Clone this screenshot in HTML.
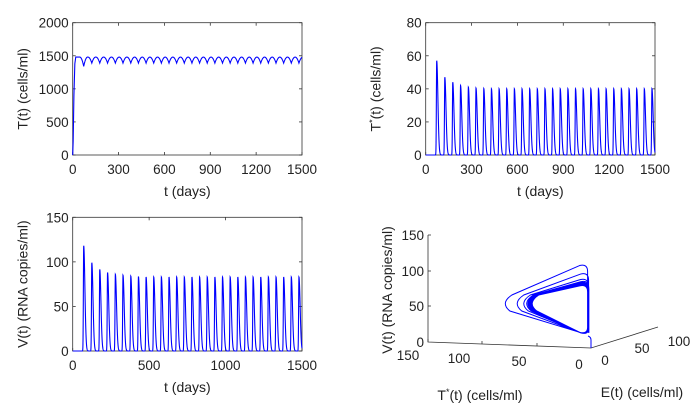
<!DOCTYPE html>
<html><head><meta charset="utf-8">
<style>
html,body{margin:0;padding:0;background:#fff;}
svg{display:block;font-family:"Liberation Sans",Arial,sans-serif;}
</style></head>
<body>
<svg id="fig" width="700" height="414" viewBox="0 0 700 414"></svg>
<script>
// ---- data ----
const peakDays = [72,125,177,228,279,329,380,430,480,530,580,630,680,730,780,830,880,930,980,1030,1080,1130,1180,1230,1280,1330,1380,1430,1480];
const tstarPeaks = [57,47,44,42,41,40.5,40.2,40,40,40,40,40,40,40,40,40,40,40,40,40,40,40,40,40,40,40,40,40,40];
const vPeaks = [118,99,91.5,88,86,85,84,83.5,83,83,83,83,83,83,83,83,83,83,83,83,83,83,83,83,83,83,83,83,83];
const tPlateau = 1480;
const tDip = 1390;
const tTicksX1 = [0,300,600,900,1200,1500];
const tTicksY1 = [0,500,1000,1500,2000];
const tTicksY2 = [0,20,40,60,80];
const tTicksX3 = [0,500,1000,1500];
const tTicksY3 = [0,50,100,150];

const NS="http://www.w3.org/2000/svg";
const svg=document.getElementById('fig');
function mk(tag,attrs,parent){const e=document.createElementNS(NS,tag);for(const k in attrs)e.setAttribute(k,attrs[k]);(parent||svg).appendChild(e);return e;}

function axes(name,x0,x1,y0,y1,xmax,ymax,xt,yt,ylabel,sup){
  const g=mk('g',{});
  
  
  const sx=v=>x0+(v/xmax)*(x1-x0), sy=v=>y1-(v/ymax)*(y1-y0);
  const box=mk('rect',{x:x0,y:y0,width:x1-x0,height:y1-y0,fill:'none',stroke:'#333','stroke-width':0.8},g);
  
  
  xt.forEach(v=>{
    const x=sx(v);
    mk('line',{x1:x,x2:x,y1:y1,y2:y1-3,stroke:'#333','stroke-width':0.8},g);
    mk('line',{x1:x,x2:x,y1:y0,y2:y0+3,stroke:'#333','stroke-width':0.8},g);
    const t=mk('text',{x:x,y:y1+19,'text-anchor':'middle','font-size':13.5,fill:'#222'},g);
    t.textContent=v;
    
    
  });
  yt.forEach(v=>{
    const y=sy(v);
    mk('line',{x1:x0,x2:x0+3,y1:y,y2:y,stroke:'#333','stroke-width':0.8},g);
    mk('line',{x1:x1,x2:x1-3,y1:y,y2:y,stroke:'#333','stroke-width':0.8},g);
    const t=mk('text',{x:x0-4,y:y+5,'text-anchor':'end','font-size':13.5,fill:'#222'},g);
    t.textContent=v;
    
    
  });
  const xl=mk('text',{x:(x0+x1)/2,y:y1+41,'text-anchor':'middle','font-size':14,fill:'#222'},g);
  xl.textContent='t (days)';
  
  
  const cy=(y0+y1)/2, lx=x0-45;
  const yl=mk('text',{x:lx,y:cy,'text-anchor':'middle','font-size':14,fill:'#222',transform:`rotate(-90 ${lx} ${cy})`},g);
  if(sup){yl.innerHTML='T<tspan dy="-5" font-size="9">*</tspan><tspan dy="5">(t) (cells/ml)</tspan>';}
  else yl.textContent=ylabel;
  
  
  return {sx,sy,g};
}

function nearest(t){let best=1e9,idx=0;peakDays.forEach((p,i)=>{if(Math.abs(t-p)<Math.abs(best)){best=t-p;idx=i;}});return {d:best,i:idx};}
function spikeSeries(peaks){
  const pts=[];
  for(let t=0;t<=1500;t+=0.5){
    let v=0;
    peakDays.forEach((p,i)=>{
      const d=t-p;
      if(d<-15||d>45)return;
      const w=d<0?3:11;
      v+=peaks[i]*Math.exp(-Math.pow(d/w,2));
    });
    pts.push([t,v]);
  }
  return pts;
}
function plotLine(ax,pts,name){
  const d=pts.map((p,i)=>(i?'L':'M')+ax.sx(p[0]).toFixed(2)+' '+ax.sy(p[1]).toFixed(2)).join('');
  const p=mk('path',{d:d,fill:'none',stroke:'#0000ff','stroke-width':1.1},ax.g);
  
  
}

// Panel 1: T(t)
const a1=axes('panel-t-cells',72.7,302,22.7,155,1500,2000,tTicksX1,tTicksY1,'T(t) (cells/ml)');
(function(){
  const pts=[[0,0],[3,200],[8,900],[14,1380],[20,tPlateau]];
  for(let t=20;t<=1500;t+=0.5){
    const n=nearest(t);
    const u=Math.min(1,Math.abs(n.d)/25);
    const dip=(n.i===0?tDip-50:tDip);
    pts.push([t,dip+(tPlateau-dip)*(1-(1-u)*(1-u))]);
  }
  plotLine(a1,pts,'t-cells-line');
})();

// Panel 2: T*(t)
const a2=axes('panel-tstar',425.7,655,22.7,155,1500,80,tTicksX1,tTicksY2,'',true);
plotLine(a2,spikeSeries(tstarPeaks),'tstar-line');

// Panel 3: V(t)
const a3=axes('panel-virus',72.7,302,217.3,351,1500,150,tTicksX3,tTicksY3,'V(t) (RNA copies/ml)');
plotLine(a3,spikeSeries(vPeaks),'virus-line');

// Panel 4: 3D phase portrait
(function(){
  const g=mk('g',{});
  
  
  const ax={stroke:'#333','stroke-width':0.8,fill:'none'};
  mk('polyline',Object.assign({points:'428,235 428,342 591,348 658,327'},ax),g);
  [[428,342],[482,344],[537,346],[591,348]].forEach(p=>mk('line',{x1:p[0],y1:p[1],x2:p[0],y2:p[1]-3,stroke:'#333','stroke-width':0.8},g));
  [[428,235],[428,271],[428,306]].forEach(p=>mk('line',{x1:p[0],y1:p[1],x2:p[0]+3,y2:p[1],stroke:'#333','stroke-width':0.8},g));
  const lab=(x,y,s,n,anc)=>{const t=mk('text',{x:x,y:y,'text-anchor':anc||'middle','font-size':13.5,fill:'#222'},g);t.textContent=s;};
  lab(424,240,'150','z-tick-label','end');lab(424,276,'100','z-tick-label','end');lab(424,311,'50','z-tick-label','end');lab(424,347,'0','z-tick-label','end');
  lab(408,360,'150','x-tick-label');lab(459,363,'100','x-tick-label');lab(519,366,'50','x-tick-label');lab(579,369,'0','x-tick-label');
  lab(605,365,'0','y-tick-label');lab(642,353,'50','y-tick-label');lab(679,346,'100','y-tick-label');
  const xt=mk('text',{x:480,y:400,'text-anchor':'middle','font-size':14,fill:'#222'},g);
  xt.innerHTML='T<tspan dy="-5" font-size="9">*</tspan><tspan dy="5">(t) (cells/ml)</tspan>';
  
  
  const et=mk('text',{x:642,y:397,'text-anchor':'middle','font-size':14,fill:'#222'},g);
  et.textContent='E(t) (cells/ml)';
  
  
  const vt=mk('text',{x:392,y:290,'text-anchor':'middle','font-size':14,fill:'#222',transform:'rotate(-90 392 290)'},g);
  vt.textContent='V(t) (RNA copies/ml)';
  
  
  // trajectory loops
  let d='M591 348 L591 340 Q591 337 588 336 ';
  tstarPeaks.forEach((tp,i)=>{
    const j=0.93+0.07*((i*7)%10)/10;
    const sT=tp/40*j, sV=vPeaks[i]/83*j;
    const bx=589-(1-j)*20, by=333-(1-j)*10;
    const ty=by-52*sV;
    const lx=590-68*sT, ly=304;
    d+=`M${bx} ${by} L${bx} ${ty+8} Q${bx} ${ty} ${bx-8} ${ty+2} L${lx+12} ${ly-9} Q${lx} ${ly-1} ${lx+10} ${ly+7} L${bx-8} ${by} Q${bx} ${by+2} ${bx} ${by-5} `;
  });
  const p=mk('path',{d:d,fill:'none',stroke:'#0000ff','stroke-width':1},g);
  
  
})();
</script>
</body></html>
